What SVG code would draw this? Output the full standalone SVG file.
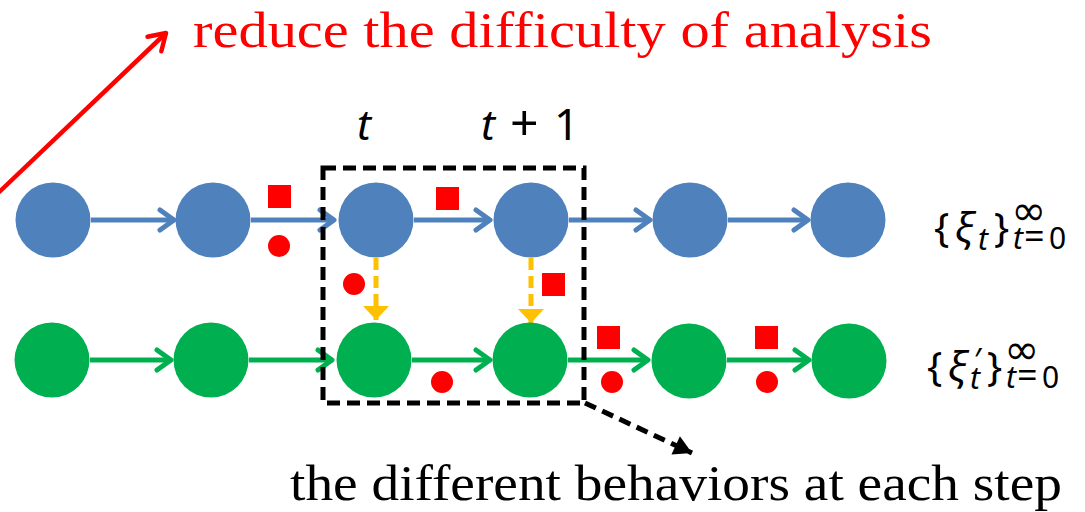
<svg xmlns="http://www.w3.org/2000/svg" width="1085" height="512" viewBox="0 0 1085 512">
<style>
.blue{fill:#4F81BD}
.green{fill:#00B050}
.red{fill:#FF0000}
.bl{stroke:#4F81BD;stroke-width:5;fill:none}
.gl{stroke:#00B050;stroke-width:5;fill:none}
.ol{stroke:#FFC000;stroke-width:5;fill:none;stroke-dasharray:12 6}
.serif{font-family:"Liberation Serif","DejaVu Serif",serif}
.math{font-family:"Noto Sans","DejaVu Sans",sans-serif}
.it{font-style:italic}
</style>
<defs>
<marker id="cb" markerUnits="userSpaceOnUse" markerWidth="30" markerHeight="30" viewBox="-20 -15 30 30" refX="0" refY="0" orient="auto">
<path d="M-14,-10 L0,0 L-14,10" fill="none" stroke="#4F81BD" stroke-width="5" stroke-linecap="round" stroke-linejoin="round"/>
</marker>
<marker id="cg" markerUnits="userSpaceOnUse" markerWidth="30" markerHeight="30" viewBox="-20 -15 30 30" refX="0" refY="0" orient="auto">
<path d="M-14,-10 L0,0 L-14,10" fill="none" stroke="#00B050" stroke-width="5" stroke-linecap="round" stroke-linejoin="round"/>
</marker>
<marker id="cr" markerUnits="userSpaceOnUse" markerWidth="40" markerHeight="40" viewBox="-25 -20 40 40" refX="0" refY="0" orient="auto">
<path d="M-16,-10 L0,0 L-16,10" fill="none" stroke="#FF0000" stroke-width="4.5" stroke-linecap="round" stroke-linejoin="round"/>
</marker>
<marker id="to" markerUnits="userSpaceOnUse" markerWidth="30" markerHeight="30" viewBox="-20 -15 30 30" refX="0" refY="0" orient="auto">
<path d="M-14,-13 L0,0 L-14,13 Z" fill="#FFC000"/>
</marker>
<marker id="tk" markerUnits="userSpaceOnUse" markerWidth="30" markerHeight="30" viewBox="-20 -15 30 30" refX="0" refY="0" orient="auto">
<path d="M-18,-10 L0,0 L-18,10 Z" fill="#000"/>
</marker>
</defs>

<g id="connectors">
<line class="bl" x1="91" y1="220" x2="174" y2="220" marker-end="url(#cb)"/>
<line class="bl" x1="251" y1="220" x2="334" y2="220" marker-end="url(#cb)"/>
<line class="bl" x1="414" y1="220" x2="490" y2="220" marker-end="url(#cb)"/>
<line class="bl" x1="569" y1="220" x2="650" y2="220" marker-end="url(#cb)"/>
<line class="bl" x1="728" y1="220" x2="808" y2="220" marker-end="url(#cb)"/>
<line class="gl" x1="90" y1="360" x2="171" y2="360" marker-end="url(#cg)"/>
<line class="gl" x1="249" y1="360" x2="332" y2="360" marker-end="url(#cg)"/>
<line class="gl" x1="412" y1="360" x2="490" y2="360" marker-end="url(#cg)"/>
<line class="gl" x1="568" y1="360" x2="648" y2="360" marker-end="url(#cg)"/>
<line class="gl" x1="727" y1="360" x2="809" y2="360" marker-end="url(#cg)"/>
<line class="ol" x1="376" y1="258" x2="376" y2="320" marker-end="url(#to)"/>
<line class="ol" x1="531" y1="258" x2="531" y2="323" marker-end="url(#to)"/>
<line x1="-5" y1="196" x2="166" y2="33" stroke="#FF0000" stroke-width="4.5" marker-end="url(#cr)"/>
<line x1="585" y1="403" x2="692" y2="453" stroke="#000" stroke-width="5" stroke-dasharray="12 7" marker-end="url(#tk)"/>
</g>

<g id="box">
<rect x="323" y="168" width="261" height="235" fill="none" stroke="#000" stroke-width="5" stroke-dasharray="13 7"/>
</g>

<g id="blue-row">
<circle id="b1" class="blue" cx="53" cy="220" r="37.5"/>
<circle id="b2" class="blue" cx="213" cy="220" r="37.5"/>
<circle id="b3" class="blue" cx="376" cy="220" r="37.5"/>
<circle id="b4" class="blue" cx="531" cy="220" r="37.5"/>
<circle id="b5" class="blue" cx="690" cy="220" r="37.5"/>
<circle id="b6" class="blue" cx="848" cy="220" r="37.5"/>
</g>
<g id="green-row">
<circle id="g1" class="green" cx="52" cy="360" r="37.5"/>
<circle id="g2" class="green" cx="211" cy="360" r="37.5"/>
<circle id="g3" class="green" cx="374" cy="360" r="37.5"/>
<circle id="g4" class="green" cx="530" cy="360" r="37.5"/>
<circle id="g5" class="green" cx="689" cy="361" r="37.5"/>
<circle id="g6" class="green" cx="849" cy="361" r="37.5"/>
</g>

<g id="markers">
<rect class="red" x="268" y="185" width="23" height="23"/>
<circle class="red" cx="279" cy="246" r="11"/>
<rect class="red" x="436" y="187" width="23" height="23"/>
<circle class="red" cx="354" cy="284" r="11"/>
<rect class="red" x="542" y="273" width="23" height="23"/>
<circle class="red" cx="442" cy="382" r="11"/>
<rect class="red" x="597" y="326" width="23" height="23"/>
<circle class="red" cx="612" cy="382" r="11"/>
<rect class="red" x="755" y="326" width="23" height="23"/>
<circle class="red" cx="767" cy="382" r="11"/>
</g>

<g id="labels">
<text class="serif" x="193" y="47" font-size="51" fill="#FF0000" textLength="739" lengthAdjust="spacingAndGlyphs">reduce the difficulty of analysis</text>
<text class="serif" x="290" y="500" font-size="51" fill="#000" textLength="772" lengthAdjust="spacingAndGlyphs">the different behaviors at each step</text>
<text class="math it" x="357" y="140" font-size="42" fill="#000">t</text>
<text class="math" y="140" font-size="42" fill="#000"><tspan class="it" x="481">t</tspan><tspan x="510" font-size="50">+</tspan><tspan x="554" font-size="44">1</tspan></text>
</g>

<g id="seq1" fill="#000">
<text class="math" font-size="40"><tspan x="934" y="242">{</tspan><tspan class="it" x="955" y="242">ξ</tspan><tspan class="it" x="978" y="250" font-size="30">t</tspan><tspan x="994" y="242">}</tspan></text>
<text class="math" font-size="42" x="1011" y="225">∞</text>
<text class="math" font-size="30" y="249"><tspan class="it" x="1013">t</tspan><tspan x="1024" font-size="36">=</tspan><tspan x="1049">0</tspan></text>
</g>
<g id="seq2" fill="#000">
<text class="math" font-size="40"><tspan x="927" y="381">{</tspan><tspan class="it" x="948" y="381">ξ</tspan><tspan x="974" y="372" font-size="32">′</tspan><tspan class="it" x="970" y="389" font-size="30">t</tspan><tspan x="987" y="381">}</tspan></text>
<text class="math" font-size="42" x="1004" y="364">∞</text>
<text class="math" font-size="30" y="388"><tspan class="it" x="1006">t</tspan><tspan x="1017" font-size="36">=</tspan><tspan x="1042">0</tspan></text>
</g>
</svg>
